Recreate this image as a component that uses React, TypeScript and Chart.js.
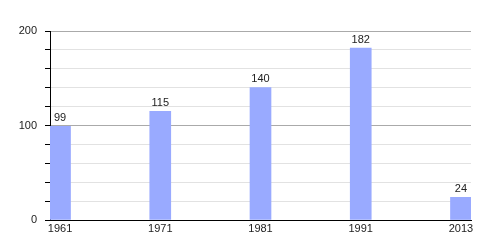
import React, { useEffect, useRef } from "react";
import { Chart, registerables } from "chart.js";

Chart.register(...registerables);

const years = ["1961", "1971", "1981", "1991", "2013"];
const population = [99, 115, 140, 182, 24];
const yTickLabels = [0, 100, 200];

const valueLabels = {
  id: "valueLabels",
  afterDatasetsDraw(chart: any) {
    const ctx = chart.ctx;
    const meta = chart.getDatasetMeta(0);
    ctx.save();
    ctx.font = "11px 'Liberation Sans', Arial, sans-serif";
    ctx.fillStyle = "#222";
    ctx.textAlign = "center";
    ctx.textBaseline = "bottom";
    meta.data.forEach((el: any, i: number) => {
      ctx.fillText(String(population[i]), el.x, el.y - 3);
    });
    ctx.restore();
  },
};

export default function App() {
  const ref = useRef<HTMLCanvasElement>(null);
  useEffect(() => {
    if (!ref.current) return;
    const chart = new Chart(ref.current, {
      type: "bar",
      data: {
        datasets: [
          {
            data: population.map((v, i) => ({ x: i, y: v })),
            backgroundColor: "#99aaff",
            borderWidth: 0,
            barThickness: 21,
          },
        ],
      },
      options: {
        animation: false,
        responsive: false,
        maintainAspectRatio: false,
        layout: { padding: { top: 31, right: 29, left: 0, bottom: 0 } },
        plugins: { legend: { display: false }, tooltip: { enabled: false } },
        scales: {
          x: {
            type: "linear",
            offset: false,
            min: -0.1,
            max: 4.1,
            afterBuildTicks: (s: any) => {
              s.ticks = years.map((_, i) => ({ value: i }));
            },
            afterFit: (s: any) => {
              s.height = 30;
            },
            ticks: {
              callback: (v: any) => years[Math.round(Number(v))] ?? "",
              color: "#222",
              padding: 2,
              maxRotation: 0,
              autoSkip: false,
              font: { family: "'Liberation Sans', Arial, sans-serif", size: 11 },
            },
            grid: { display: false, drawTicks: false, offset: false },
            border: { display: true, color: "#000", width: 1 },
          },
          y: {
            min: 0,
            max: 200,
            afterFit: (s: any) => {
              s.width = 50;
            },
            ticks: {
              stepSize: 20,
              padding: 8,
              color: "#222",
              callback: (v: any) => (yTickLabels.includes(Number(v)) ? String(v) : ""),
              font: { family: "'Liberation Sans', Arial, sans-serif", size: 11 },
            },
            grid: {
              color: (c: any) => (c.tick && c.tick.value % 100 === 0 ? "#aaaaaa" : "#e2e2e2"),
              tickColor: "#000",
              tickLength: 5,
              lineWidth: 1,
            },
            border: { display: true, color: "#000", width: 1 },
          },
        },
      },
      plugins: [valueLabels],
    });
    return () => chart.destroy();
  }, []);
  return (
    <div style={{ position: "fixed", left: 0, top: 0, width: 500, height: 250, background: "#fff" }}>
      <canvas ref={ref} width={500} height={250} />
    </div>
  );
}
